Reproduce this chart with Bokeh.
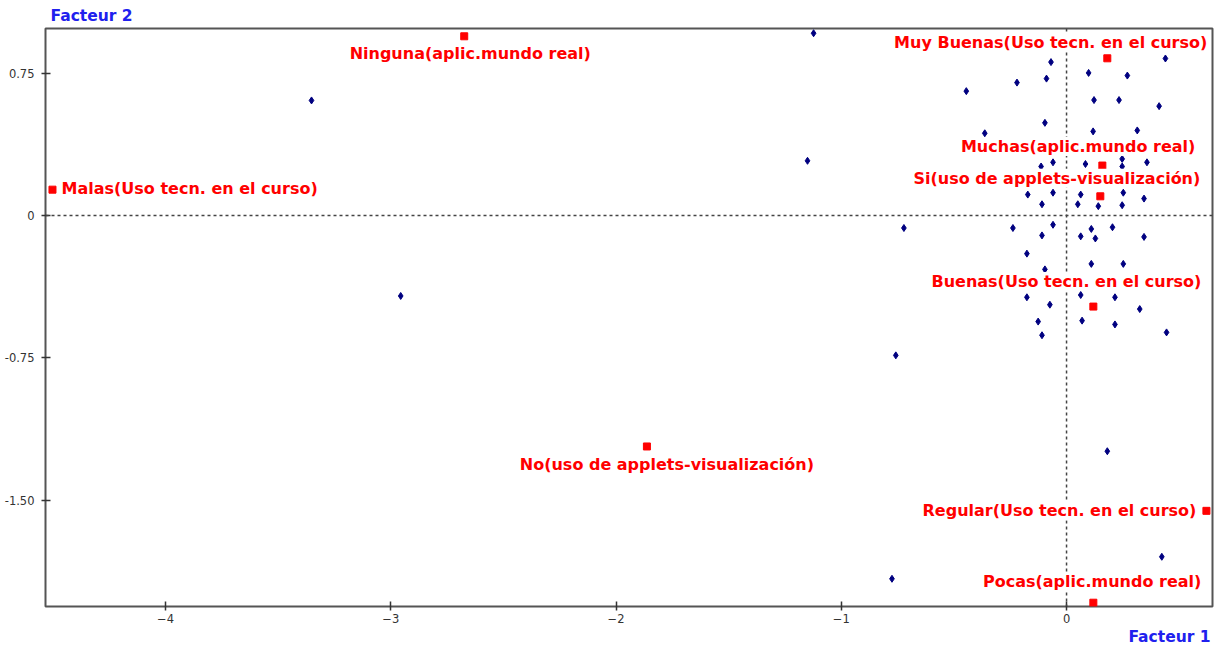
from bokeh.plotting import figure
from bokeh.models import Range1d, FixedTicker, Span, Label, Title
from bokeh.embed import file_html
from bokeh.resources import INLINE

# ---- data (individuals, Facteur 1 / Facteur 2) ----
ind_x = [-1.123, -3.352, -1.150, -0.722, -2.956, -0.758, -0.775, 0.181, 0.423,
         -0.069, -0.220, -0.089, -0.445, 0.098, 0.270, 0.439, 0.122, 0.233, 0.411,
         -0.096, -0.363, 0.118, 0.314, -0.113, -0.060, 0.084, 0.247, 0.247, 0.357,
         -0.172, -0.060, 0.063, 0.252, 0.344, -0.109, 0.050, 0.141, 0.247,
         -0.238, -0.060, 0.110, 0.204, -0.109, 0.063, 0.128, 0.344, -0.176,
         0.110, 0.252, -0.096, -0.176, 0.063, 0.215, -0.074, 0.325, -0.126,
         0.069, 0.215, -0.109, 0.444]
ind_y = [0.960, 0.606, 0.288, -0.066, -0.424, -0.737, -1.914, -1.242, -1.798,
         0.808, 0.700, 0.721, 0.655, 0.751, 0.737, 0.827, 0.608, 0.608, 0.576,
         0.488, 0.433, 0.443, 0.448, 0.258, 0.280, 0.271, 0.298, 0.258, 0.280,
         0.110, 0.120, 0.110, 0.120, 0.089, 0.059, 0.059, 0.049, 0.054,
         -0.066, -0.049, -0.071, -0.062, -0.105, -0.110, -0.121, -0.113, -0.201,
         -0.255, -0.255, -0.284, -0.431, -0.419, -0.431, -0.470, -0.493, -0.559,
         -0.554, -0.574, -0.631, -0.616]

# ---- supplementary categories ----
cat_names = ["Ninguna(aplic.mundo real)", "Muy Buenas(Uso tecn. en el curso)",
             "Malas(Uso tecn. en el curso)", "Muchas(aplic.mundo real)",
             "Si(uso de applets-visualización)", "Buenas(Uso tecn. en el curso)",
             "No(uso de applets-visualización)", "Regular(Uso tecn. en el curso)",
             "Pocas(aplic.mundo real)"]
cat_x = [-2.674, 0.181, -4.502, 0.159, 0.150, 0.119, -1.863, 0.621, 0.119]
cat_y = [0.944, 0.828, 0.136, 0.263, 0.101, -0.480, -1.217, -1.556, -2.040]

x_ticks = [-4, -3, -2, -1, 0]
y_ticks = [0.75, 0, -0.75, -1.5]
y_tick_labels = ["0.75", "0", "-0.75", "-1.50"]
axis_titles = ["Facteur 1", "Facteur 2"]

# label placement (align, x_offset px, y_offset px)
label_layout = [("center", 6, -17), ("right", 100, 16), ("left", 9, 1),
                ("right", 93, 19), ("right", 100, 18), ("right", 108, 25),
                ("center", 20, -18), ("right", -10, 0), ("right", 108, 21)]

p = figure(width=1214, height=645, output_backend="svg", toolbar_location=None,
           x_range=Range1d(-4.533, 0.648), y_range=Range1d(-2.06, 0.985),
           min_border_left=45, min_border_right=2, min_border_top=22,
           min_border_bottom=20)
p.background_fill_color = "white"
p.border_fill_color = "white"
p.outline_line_color = "#555555"
p.outline_line_width = 2
p.xgrid.visible = False
p.ygrid.visible = False

for ax in (p.xaxis, p.yaxis):
    ax.axis_line_color = None
    ax.major_tick_in = 5
    ax.major_tick_out = 4
    ax.major_tick_line_color = "#333333"
    ax.major_tick_line_width = 1.5
    ax.minor_tick_line_color = None
    ax.major_label_text_font = "DejaVu Sans"
    ax.major_label_text_font_size = "11.5px"
    ax.major_label_text_color = "#333333"

p.xaxis.ticker = FixedTicker(ticks=x_ticks)
p.yaxis.ticker = FixedTicker(ticks=y_ticks)
p.yaxis.major_label_overrides = {t: l for t, l in zip(y_ticks, y_tick_labels)}
p.xaxis.major_label_standoff = 3
p.yaxis.major_label_standoff = 7

p.add_layout(Span(location=0, dimension="height", line_color="#444444",
                  line_width=1.5, line_dash="3 3"))
p.add_layout(Span(location=0, dimension="width", line_color="#444444",
                  line_width=1.5, line_dash="3 3"))

p.scatter(ind_x, ind_y, marker="diamond", size=7, fill_color="#000080",
          line_color="#000080")
p.scatter(cat_x, cat_y, marker="square", size=7, fill_color="#FF0000",
          line_color="#FF0000")

for name, cx, cy, (al, dx, dy) in zip(cat_names, cat_x, cat_y, label_layout):
    p.add_layout(Label(x=cx, y=cy, text=name, x_offset=dx, y_offset=dy,
                       text_align=al, text_baseline="middle",
                       text_font="DejaVu Sans", text_font_style="bold",
                       text_font_size="16px", text_color="#FF0000",
                       background_fill_color="white"))

title_style = dict(text_font="DejaVu Sans", text_font_style="bold",
                   text_font_size="15.5px", text_color="#2020EE")
p.add_layout(Title(text=axis_titles[1], align="left", offset=5, standoff=8,
                   **title_style), "above")
p.add_layout(Title(text=axis_titles[0], align="right", offset=2, standoff=0,
                   **title_style), "below")

open("out.html", "w").write(file_html(p, INLINE))
